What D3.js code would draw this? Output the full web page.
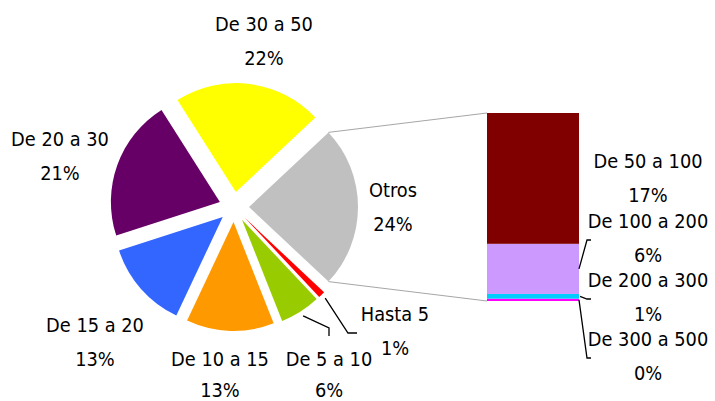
<!DOCTYPE html>
<html>
<head>
<meta charset="utf-8">
<script src="https://cdn.jsdelivr.net/npm/d3@7"></script>
<style>
  body { margin: 0; background: #fff; }
  text { font-family: "DejaVu Sans Condensed", "DejaVu Sans", sans-serif; font-stretch: condensed; font-size: 19.8px; fill: #000; }
</style>
</head>
<body>
<svg width="715" height="401"></svg>
<script>
// pie slices (clockwise, starting with the "Otros" slice)
const pieNames = ['Otros', 'Hasta 5', 'De 5 a 10', 'De 10 a 15', 'De 15 a 20', 'De 20 a 30', 'De 30 a 50'];
const pieValues = [null, 1, 6, 13, 13, 21, 22];
const pieColors = ['#c0c0c0', '#ff0000', '#99cc00', '#ff9900', '#3366ff', '#660066', '#ffff00'];

// the "Otros" bar, bottom to top
const barNames = ['De 300 a 500', 'De 200 a 300', 'De 100 a 200', 'De 50 a 100'];
const barValues = [0.3, 0.6, 6.4, 16.7];
const barColors = ['#ff00ff', '#00ccff', '#cc99ff', '#800000'];

const otros = d3.sum(barValues);
pieValues[0] = otros;

const svg = d3.select('svg');
const cx = 234, cy = 207, R = 109, explode = 15;

// Otros is centred on 3 o'clock
const total = d3.sum(pieValues);
const start = Math.PI / 2 - (otros / total) * Math.PI;
const pie = d3.pie().sort(null).startAngle(start).endAngle(start + 2 * Math.PI);
const arcs = pie(pieValues);
const arc = d3.arc().innerRadius(0).outerRadius(R);

function shift(d, r) {
  const a = (d.startAngle + d.endAngle) / 2;
  return [cx + r * Math.sin(a), cy - r * Math.cos(a)];
}
function polar(d, ang, r) {
  const t = shift(d, explode);
  return [t[0] + r * Math.sin(ang), t[1] - r * Math.cos(ang)];
}

svg.append('g').selectAll('path')
  .data(arcs)
  .join('path')
  .attr('transform', d => 'translate(' + shift(d, explode) + ')')
  .attr('d', arc)
  .attr('fill', (d, i) => pieColors[i]);

// bar of "Otros"
const barX = 487, barW = 92;
const y = d3.scaleLinear().domain([0, otros]).range([301, 113]);
const stack = d3.cumsum(barValues);
svg.append('g').selectAll('rect')
  .data(barValues)
  .join('rect')
  .attr('x', barX)
  .attr('width', barW)
  .attr('y', (v, i) => y(stack[i]))
  .attr('height', v => y(0) - y(v))
  .attr('fill', (v, i) => barColors[i]);

// connector lines from the Otros slice to the bar
const o = arcs[0];
const p1 = polar(o, o.startAngle, R), p2 = polar(o, o.endAngle, R);
svg.append('line').attr('x1', p1[0]).attr('y1', p1[1]).attr('x2', barX).attr('y2', y(otros))
  .attr('stroke', '#a6a6a6').attr('stroke-width', 1);
svg.append('line').attr('x1', p2[0]).attr('y1', p2[1]).attr('x2', barX).attr('y2', y(0))
  .attr('stroke', '#a6a6a6').attr('stroke-width', 1);

// leader lines
const line = d3.line();
const h5 = arcs[1], g5 = arcs[2];
const leaders = [
  [polar(h5, (h5.startAngle + h5.endAngle) / 2, R + 5), [348, 333], [357, 333]],
  [polar(g5, (g5.startAngle + g5.endAngle) / 2, R + 5), [329, 328], [329, 336]],
  [[barX + barW, y(stack[1] + barValues[2] / 2)], [587, 240], [591, 240]],
  [[barX + barW + 1, y(stack[0] + barValues[1] / 2)], [587, 299], [591, 299]],
  [[barX + barW, y(barValues[0] / 2)], [587, 358], [591, 358]]
];
svg.append('g').selectAll('path')
  .data(leaders)
  .join('path')
  .attr('d', line)
  .attr('fill', 'none')
  .attr('stroke', '#000')
  .attr('stroke-width', 1.3);

// labels: [name, percent, x, baseline]
const labels = [
  [pieNames[6], pieValues[6], 264, 31],
  [pieNames[5], pieValues[5], 60, 146],
  [pieNames[4], pieValues[4], 95, 332],
  [pieNames[3], pieValues[3], 220, 366],
  [pieNames[2], pieValues[2], 329, 366],
  [pieNames[1], pieValues[1], 395, 321],
  [pieNames[0], pieValues[0], 393, 197],
  [barNames[3], barValues[3], 648, 168],
  [barNames[2], barValues[2], 648, 228],
  [barNames[1], barValues[1], 648, 287],
  [barNames[0], barValues[0], 648, 346]
];
const lg = svg.append('g').selectAll('g').data(labels).join('g');
lg.append('text')
  .attr('x', d => d[2]).attr('y', d => d[3])
  .attr('text-anchor', 'middle')
  .text(d => d[0]);
lg.append('text')
  .attr('x', d => d[2]).attr('y', d => Math.min(d[3] + 34, 397))
  .attr('text-anchor', 'middle')
  .text(d => Math.round(d[1]) + '%');
</script>
</body>
</html>
